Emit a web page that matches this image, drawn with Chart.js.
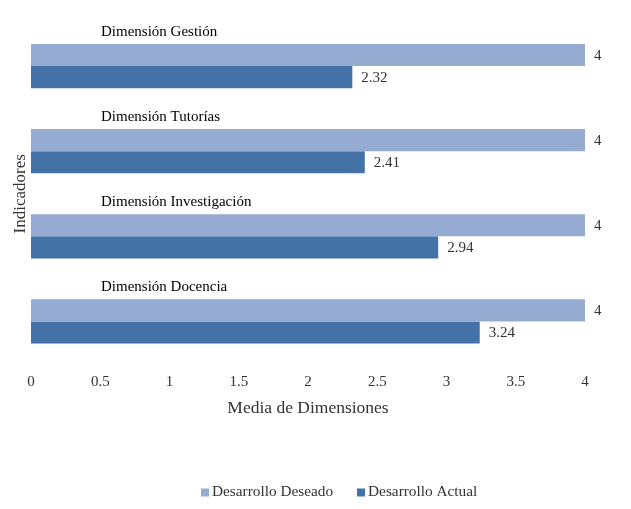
<!DOCTYPE html>
<html><head><meta charset="utf-8">
<script src="https://cdn.jsdelivr.net/npm/chart.js@4/dist/chart.umd.min.js"></script>
<style>html,body{margin:0;padding:0;background:#fff}#wrap{width:631px;height:509px}</style>
</head><body><div id="wrap"><canvas id="c"></canvas></div>
<script>
const categories = ["Dimensión Gestión","Dimensión Tutorías","Dimensión Investigación","Dimensión Docencia"];
const seriesNames = ["Desarrollo Deseado","Desarrollo Actual"];
const deseado = [4,4,4,4];
const actual = [2.32,2.41,2.94,3.24];
const xTicks = [0,0.5,1,1.5,2,2.5,3,3.5,4];
const colors = ['#95abd2','#4472a6'];
const FONT = "'Liberation Serif','Times New Roman',serif";

const labelPlugin = {
  id:'labels',
  afterDatasetsDraw(chart){
    const ctx = chart.ctx;
    const y = chart.scales.y;
    ctx.save();
    ctx.fillStyle = '#000';
    ctx.font = '15px ' + FONT;
    ctx.textBaseline = 'middle';
    ctx.textAlign = 'left';
    categories.forEach((c,i)=>{
      const py = y.getPixelForValue(i);
      ctx.fillText(c, chart.chartArea.left + 70, py - 34.5);
    });
    ctx.fillStyle = '#333';
    chart.data.datasets.forEach((ds,di)=>{
      const meta = chart.getDatasetMeta(di);
      meta.data.forEach((bar,i)=>{
        ctx.fillText(String(ds.data[i]), bar.x + 9, bar.y + 1);
      });
    });
    // legend
    ctx.font = '15.3px ' + FONT;
    let lx = 201;
    const ly = 491.5;
    chart.data.datasets.forEach((ds,di)=>{
      ctx.fillStyle = ds.backgroundColor;
      ctx.fillRect(lx, ly - 3, 8, 8);
      ctx.fillStyle = '#333';
      ctx.fillText(ds.label, lx + 11, ly);
      lx += 11 + ctx.measureText(ds.label).width + 24;
    });
    ctx.restore();
  }
};

new Chart(document.getElementById('c'),{
  type:'bar',
  data:{labels:categories,datasets:[
    {label:seriesNames[0],data:deseado,backgroundColor:colors[0],categoryPercentage:0.52,barPercentage:1.0},
    {label:seriesNames[1],data:actual,backgroundColor:colors[1],categoryPercentage:0.52,barPercentage:1.0}
  ]},
  options:{
    indexAxis:'y',responsive:true,maintainAspectRatio:false,animation:false,
    layout:{padding:{left:4,right:46,top:23.5,bottom:35}},
    plugins:{
      legend:{display:false},
      tooltip:{enabled:false}
    },
    scales:{
      x:{min:0,max:4,afterBuildTicks(s){s.ticks=xTicks.map(v=>({value:v}));},
        grid:{display:false},border:{display:false},
        ticks:{color:'#333',font:{family:FONT,size:15},padding:1.5,callback:(v)=>String(v)},
        title:{display:true,text:'Media de Dimensiones',color:'#333',font:{family:FONT,size:17.5},padding:{top:5,bottom:55}}},
      y:{grid:{display:false},border:{display:false},ticks:{display:false},
        afterFit(s){s.width=27;},
        title:{display:true,text:'Indicadores',color:'#333',font:{family:FONT,size:17},padding:{top:6,bottom:0}}}
    }
  },
  plugins:[labelPlugin]
});
</script></body></html>
